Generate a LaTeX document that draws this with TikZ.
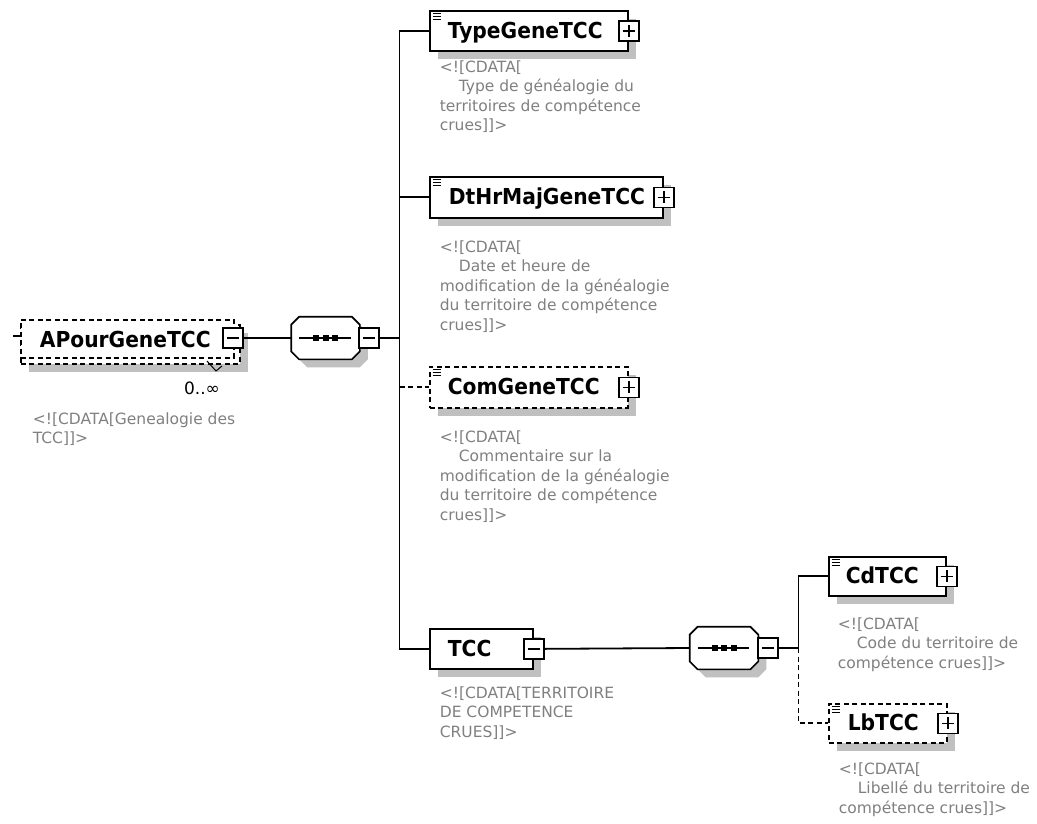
\documentclass[tikz,border=0pt]{standalone}
\usepackage{fontspec}
\usetikzlibrary{shadows}
\newfontfamily\annfont{DejaVu Sans}
\newfontfamily\elfont{DejaVu Sans}[FakeStretch=0.92]
\definecolor{shadowgray}{RGB}{192,192,192}
\definecolor{anngray}{RGB}{128,128,128}
% octagon outline of a sequence compositor, chamfer 8pt
\newcommand\octpath[1]{([xshift=8pt]#1.north west) -- ([xshift=-8pt]#1.north east) -- ([yshift=-8pt]#1.north east) -- ([yshift=8pt]#1.south east) -- ([xshift=-8pt]#1.south east) -- ([xshift=8pt]#1.south west) -- ([yshift=8pt]#1.south west) -- ([yshift=-8pt]#1.north west) -- cycle}
% "simple content" marker in the top left corner of an element box
\newcommand\simplemark[1]{\foreach \k in {3.5,6.5,9.5} \draw[line width=1.2pt] ([shift={(3.5pt,-\k pt)}]#1.north west) -- ++(8pt,0);}
\newcommand\annstrut{\rule{0pt}{12.5pt}}
\begin{document}
\begin{tikzpicture}[x=1pt,y=-1pt,line width=1.7pt,
  box/.style={draw, fill=white, inner sep=0, anchor=north west, line width=1.7pt},
  optbox/.style={box, dash pattern=on 5pt off 3.5pt},
  shad/.style={general shadow={fill=shadowgray, shadow xshift=8pt, shadow yshift=-8pt}},
  ename/.style={anchor=base west, inner sep=0, font=\elfont\bfseries\fontsize{22}{26}\selectfont},
  ann/.style={anchor=north west, inner sep=0, align=left, text=anngray, font=\annfont\fontsize{15.5}{19.5}\selectfont},
  btn/.style={draw, fill=white, minimum size=20pt, inner sep=0, line width=1.6pt},
  plusbtn/.style={btn, path picture={\draw[line width=1.6pt] ([xshift=4pt]path picture bounding box.west) -- ([xshift=-4pt]path picture bounding box.east) ([yshift=-4pt]path picture bounding box.north) -- ([yshift=4pt]path picture bounding box.south);}},
  minusbtn/.style={btn, path picture={\draw[line width=1.6pt] ([xshift=4pt]path picture bounding box.west) -- ([xshift=-4pt]path picture bounding box.east);}},
  seqbox/.style={draw=none, minimum width=67pt, minimum height=41pt, inner sep=0},
  conn/.style={line width=1.8pt},
  optconn/.style={line width=1.8pt, dash pattern=on 5pt off 3.5pt}]
\useasboundingbox[fill=white] (0,0) rectangle (1037,823);

% ---------- boxes ----------
% root element (repeated, optional): back copy and front copy
\node[optbox, shad, minimum width=219pt, minimum height=39pt] (apback) at (20,324) {};
\node[optbox, minimum width=213pt, minimum height=38pt] (apfront) at (20,319) {};
\node[ename] (apname) at (39,347) {APourGeneTCC};
\coordinate (apin) at (13,336);

\node[box, shad, minimum width=198pt, minimum height=40pt] (typebox) at (429,10) {};
\node[ename] (typename) at (447,38) {TypeGeneTCC};

\node[box, shad, minimum width=233pt, minimum height=41pt] (dtbox) at (429,176) {};
\node[ename] (dtname) at (448,204.5) {DtHrMajGeneTCC};

\node[optbox, shad, minimum width=198pt, minimum height=41pt] (combox) at (429,366) {};
\node[ename] (comname) at (447,394.5) {ComGeneTCC};

\node[box, shad, minimum width=103pt, minimum height=40pt] (tccbox) at (429,628) {};
\node[ename] (tccname) at (447,656) {TCC};

\node[box, shad, minimum width=117pt, minimum height=39pt] (cdbox) at (828,556) {};
\node[ename] (cdname) at (845,583.5) {CdTCC};

\node[optbox, shad, minimum width=118pt, minimum height=39pt] (lbbox) at (828,703) {};
\node[ename] (lbname) at (847,730.5) {LbTCC};

\simplemark{typebox}
\simplemark{dtbox}
\simplemark{combox}
\simplemark{cdbox}
\simplemark{lbbox}

% ---------- sequence compositors ----------
\node[seqbox] (seq1) at (325.5,338) {};
\fill[shadowgray, transform canvas={shift={(8pt,-8pt)}}] \octpath{seq1};
\filldraw[fill=white] \octpath{seq1};
\draw ([xshift=8pt]seq1.west) -- ([xshift=-9pt]seq1.east);
\foreach \d in {-9.5,0,9.5} \fill ([shift={(\d pt-3pt,-3pt)}]seq1.center) rectangle ++(6pt,6pt);

\node[seqbox] (seq2) at (724,648) {};
\fill[shadowgray, transform canvas={shift={(8pt,-8pt)}}] \octpath{seq2};
\filldraw[fill=white] \octpath{seq2};
\draw ([xshift=8pt]seq2.west) -- ([xshift=-9pt]seq2.east);
\foreach \d in {-9.5,0,9.5} \fill ([shift={(\d pt-3pt,-3pt)}]seq2.center) rectangle ++(6pt,6pt);

% ---------- expand / collapse buttons ----------
\node[minusbtn] (apbtn) at (233,338) {};
\node[minusbtn] (seq1btn) at (369,338) {};
\node[plusbtn] (typebtn) at (typebox.east) {};
\node[plusbtn] (dtbtn) at (dtbox.east) {};
\node[plusbtn] (combtn) at (combox.east) {};
\node[minusbtn] (tccbtn) at (tccbox.east) {};
\node[minusbtn] (seq2btn) at (768,648) {};
\node[plusbtn] (cdbtn) at (cdbox.east) {};
\node[plusbtn] (lbbtn) at (lbbox.east) {};

% ---------- connectors ----------
\coordinate (j1) at (399.5,338);
\coordinate (j2) at (798.5,648);
\draw[conn] (apin) -- (apfront.west |- apin);
\draw[conn] (apbtn.east) -- (seq1.west);
\draw[conn] (seq1btn.east) -- (j1);
\draw[conn] (j1) |- (typebox.west);
\draw[conn] (j1) |- (dtbox.west);
\draw[conn] (j1) |- (tccbox.west);
\draw[optconn] (j1 |- combox.west) -- (combox.west);
\draw[conn] (tccbtn.east) -- (seq2.west);
\draw[conn] (seq2btn.east) -- (j2);
\draw[conn] (j2) |- (cdbox.west);
\draw[optconn] (j2) |- (lbbox.west);

% occurrence of the root element
\draw[line width=1pt] (207,361) -- (216,371) -- (222,366);
\node[anchor=base, inner sep=0, font=\annfont\fontsize{17}{20}\selectfont] (apocc) at (202,394) {0..∞};

% ---------- annotations ----------
\node[ann] (apann) at (32,411) {\annstrut<![CDATA[Genealogie des\\TCC]]>};
\node[ann] (typeann) at (439,59) {\annstrut<![CDATA[\\\hspace*{19pt}Type de généalogie du\\territoires de compétence\\crues]]>};
\node[ann] (dtann) at (439,239) {\annstrut<![CDATA[\\\hspace*{19pt}Date et heure de\\modification de la généalogie\\du territoire de compétence\\crues]]>};
\node[ann] (comann) at (439,429) {\annstrut<![CDATA[\\\hspace*{19pt}Commentaire sur la\\modification de la généalogie\\du territoire de compétence\\crues]]>};
\node[ann] (tccann) at (439,685) {\annstrut<![CDATA[TERRITOIRE\\DE COMPETENCE\\CRUES]]>};
\node[ann] (cdann) at (837,616) {\annstrut<![CDATA[\\\hspace*{19pt}Code du territoire de\\compétence crues]]>};
\node[ann] (lbann) at (838,761) {\annstrut<![CDATA[\\\hspace*{19pt}Libellé du territoire de\\compétence crues]]>};
\end{tikzpicture}
\end{document}
